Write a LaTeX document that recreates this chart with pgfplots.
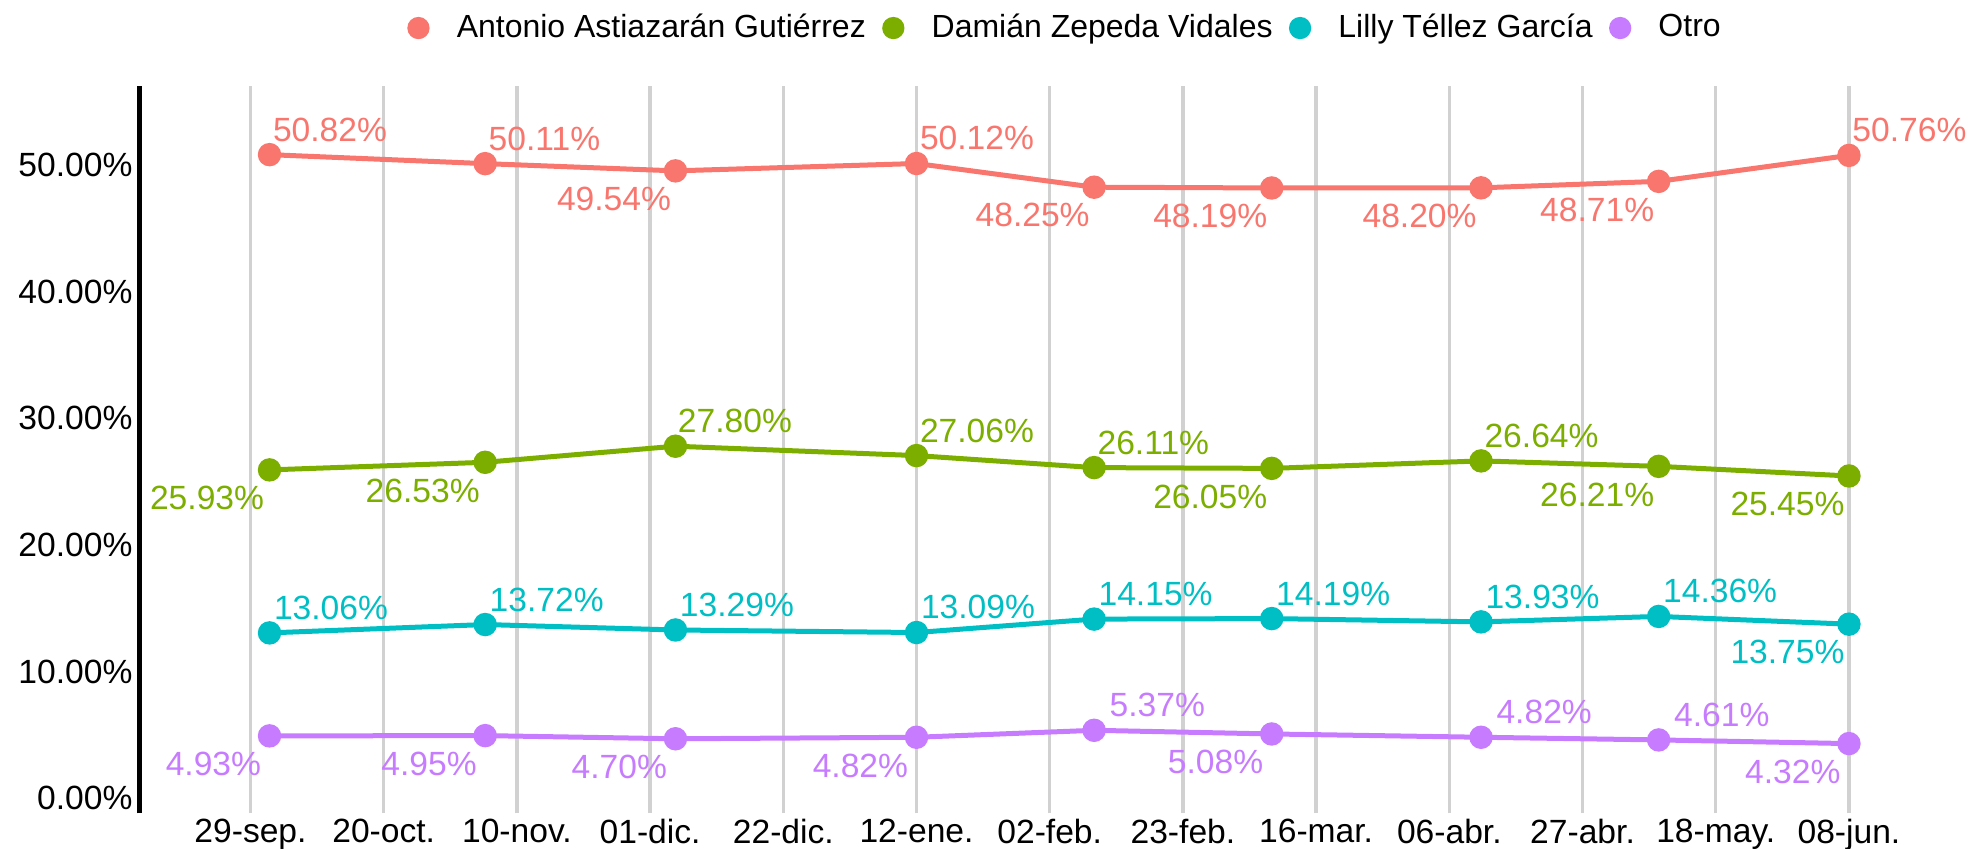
\documentclass[border=0pt]{standalone}
\usepackage{pgfplots}
\pgfplotsset{compat=1.18}
\usepackage{fontspec}
\setmainfont{Liberation Sans}
\definecolor{cA}{HTML}{F8766D}
\definecolor{cB}{HTML}{7CAE00}
\definecolor{cC}{HTML}{00BFC4}
\definecolor{cD}{HTML}{C77CFF}
\begin{document}
\fontsize{16.8}{20}\selectfont
\begin{tikzpicture}
\path[use as bounding box] (-70pt,-17.35pt) rectangle (915pt,406.65pt);
\begin{axis}[
  at={(0pt,0pt)}, anchor=south west,
  scale only axis, width=914pt, height=363.65pt,
  xmin=-17.42, xmax=270.77, ymin=-1.184, ymax=56.24,
  axis lines*=left,
  x axis line style={draw=none},
  y axis line style={line width=2.5pt, black, -},
  major tick length=0pt,
  tick style={draw=none},
  xtick={0,21,...,252},
  xticklabels={29-sep., 20-oct., 10-nov., 01-dic., 22-dic., 12-ene., 02-feb., 23-feb., 16-mar., 06-abr., 27-abr., 18-may., 08-jun.},
  ytick={0,10,...,50},
  yticklabels={0.00\%,10.00\%,20.00\%,30.00\%,40.00\%,50.00\%},
  xticklabel style={anchor=north, inner sep=0pt, yshift=-2.8pt},
  yticklabel style={anchor=east, inner sep=0pt, xshift=-3.6pt},
  xmajorgrids, grid style={line width=1.65pt, color=black!18},
  clip=false,
  legend columns=4,
  legend style={at={(0.5055,1.0797)}, anchor=center, draw=none, fill=none,
    font=\fontsize{16}{19.2}\selectfont,
    nodes={inner sep=0pt},
    /tikz/every odd column/.append style={column sep=13.6pt},
    /tikz/every even column/.append style={column sep=8.2pt}},
  legend image code/.code={\fill[#1] (0pt,0pt) circle (4.3pt);},
  every axis plot/.append style={line width=2.5pt, mark=*, mark size=4.6pt,
    nodes near coords={\pgfmathprintnumber[fixed,fixed zerofill,precision=2,assume math mode=true]{\pgfplotspointmeta}\%},
    point meta=y,
    visualization depends on={value \thisrow{a}\as\lanchor},
    visualization depends on={value \thisrow{dx}\as\ldx},
    visualization depends on={value \thisrow{dy}\as\ldy},
    every node near coord/.append style={anchor=\lanchor, inner sep=0pt, xshift=\ldx, yshift=\ldy}},
]
\addplot[color=cA] table[col sep=comma, x=x, y=y] {
x,y,a,dx,dy
3,50.82,south west,0.5pt,5.35pt
37,50.11,south west,0.5pt,5.35pt
67,49.54,north east,-1pt,-6.9pt
105,50.12,south west,0.5pt,5.35pt
133,48.25,north east,-1pt,-6.9pt
161,48.19,north east,-1pt,-6.9pt
194,48.20,north east,-1pt,-6.9pt
222,48.71,north east,-1pt,-6.9pt
252,50.76,south west,0.5pt,5.35pt
};
\addlegendentry{Antonio Astiazarán Gutiérrez}
\addplot[color=cB] table[col sep=comma, x=x, y=y] {
x,y,a,dx,dy
3,25.93,north east,-1.5pt,-6.9pt
37,26.53,north east,-1.5pt,-6.9pt
67,27.80,south west,0pt,5.35pt
105,27.06,south west,0.5pt,5.35pt
133,26.11,south west,0.5pt,5.35pt
161,26.05,north east,-1pt,-6.9pt
194,26.64,south west,0.5pt,5.35pt
222,26.21,north east,-1pt,-6.9pt
252,25.45,north east,-1pt,-6.9pt
};
\addlegendentry{Damián Zepeda Vidales}
\addplot[color=cC] table[col sep=comma, x=x, y=y] {
x,y,a,dx,dy
3,13.06,south west,1pt,5.35pt
37,13.72,south west,1pt,5.35pt
67,13.29,south west,1pt,5.35pt
105,13.09,south west,1pt,5.35pt
133,14.15,south west,1pt,5.35pt
161,14.19,south west,1pt,5.35pt
194,13.93,south west,1pt,5.35pt
222,14.36,south west,1pt,5.35pt
252,13.75,north east,-1pt,-6.9pt
};
\addlegendentry{Lilly Téllez García}
\addplot[color=cD] table[col sep=comma, x=x, y=y] {
x,y,a,dx,dy
3,4.93,north east,-3pt,-6.9pt
37,4.95,north east,-3pt,-6.9pt
67,4.70,north east,-3pt,-6.9pt
105,4.82,north east,-3pt,-6.9pt
133,5.37,south west,6.5pt,5.35pt
161,5.08,north east,-3pt,-6.9pt
194,4.82,south west,6.5pt,5.35pt
222,4.61,south west,6.5pt,5.35pt
252,4.32,north east,-3pt,-6.9pt
};
\addlegendentry{Otro}
\end{axis}
\end{tikzpicture}
\end{document}
